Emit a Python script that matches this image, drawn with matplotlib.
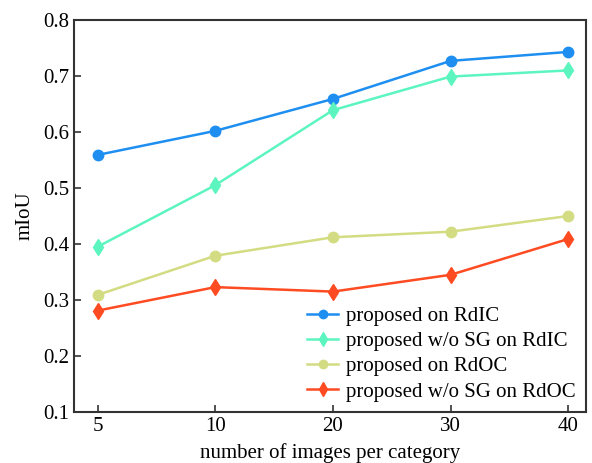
import numpy as np
import matplotlib
matplotlib.use('Agg')
import matplotlib.pyplot as plt

plt.rcParams['font.family'] = ['Liberation Serif', 'DejaVu Serif']
plt.rcParams['mathtext.fontset'] = 'stix'

# images per category and mIoU per method
shots = ['5', '10', '20', '30', '40']
rdic_full = [0.559, 0.602, 0.659, 0.727, 0.743]
rdic_nosg = [0.395, 0.505, 0.639, 0.699, 0.710]
rdoc_full = [0.309, 0.379, 0.412, 0.422, 0.450]
rdoc_nosg = [0.281, 0.323, 0.315, 0.345, 0.409]

labels = ['proposed on RdIC', 'proposed w/o SG on RdIC',
          'proposed on RdOC', 'proposed w/o SG on RdOC']
colors = ['#1e8ff0', '#5cf5c0', '#d3dc82', '#ff4b22']
markers = ['o', 'd', 'o', 'd']

fig = plt.figure(figsize=(5.92, 4.63), dpi=100)
ax = fig.add_axes([74/592, 1-412/463, 512/592, 392/463])

x = np.arange(len(shots))
for vals, lab, c, m in zip([rdic_full, rdic_nosg, rdoc_full, rdoc_nosg], labels, colors, markers):
    ax.plot(x, vals, color=c, marker=m, markersize=7.5 if m == 'o' else 8.5,
            linewidth=1.8, label=lab)

ax.set_xticks(x)
ax.set_xticklabels(shots)
ax.set_xlim(-0.2, 4.15)
ax.set_ylim(0.1, 0.8)
ax.set_yticks(np.arange(0.1, 0.81, 0.1))
ax.set_yticklabels(['%.1f' % v for v in np.arange(0.1, 0.81, 0.1)])
ax.tick_params(direction='in', labelsize=15, length=5, width=1.2, color='#333333')
for s in ax.spines.values():
    s.set_linewidth(1.5)
    s.set_color('#333333')

ax.set_xlabel('number of images per category', fontsize=15, labelpad=5)
ax.set_ylabel('mIoU', fontsize=15, labelpad=6)
ax.legend(loc='lower right', frameon=False, fontsize=15, handlelength=1.45,
          handletextpad=0.4, labelspacing=0.27, borderaxespad=0.1,
          bbox_to_anchor=(1.0, 0.0), markerscale=0.8)

fig.savefig('out.png', dpi=100)
